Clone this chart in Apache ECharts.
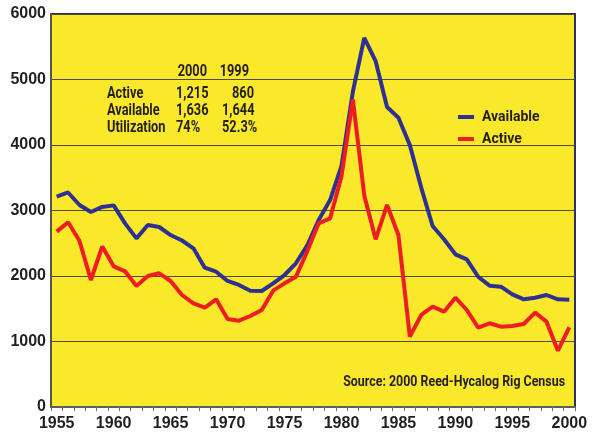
<!DOCTYPE html>
<html>
<head>
<meta charset="utf-8">
<script src="https://cdn.jsdelivr.net/npm/echarts@6/dist/echarts.min.js"></script>
<style>
  html, body { margin: 0; padding: 0; background: #fff; }
  #rigChart { width: 599px; height: 433px; }
</style>
</head>
<body>
<div id="rigChart"></div>
<script>
  // rig census data, 1955 - 2000
  var years = [];
  for (var y = 1955; y <= 2000; y++) years.push(String(y));

  var available = [3211, 3275, 3084, 2977, 3055, 3078, 2804, 2575, 2779, 2748,
                   2625, 2542, 2423, 2127, 2066, 1924, 1863, 1776, 1771, 1888,
                   2015, 2194, 2470, 2855, 3160, 3680, 4814, 5635, 5280, 4580,
                   4415, 4000, 3350, 2763, 2560, 2331, 2255, 1989, 1852, 1837,
                   1720, 1644, 1669, 1710, 1644, 1636];

  var active = [2677, 2820, 2537, 1939, 2452, 2148, 2071, 1847, 2000, 2041,
                1924, 1710, 1583, 1516, 1644, 1344, 1318, 1389, 1481, 1776,
                1888, 1989, 2380, 2804, 2880, 3520, 4695, 3230, 2560, 3084,
                2626, 1074, 1405, 1532, 1455, 1669, 1481, 1211, 1278, 1226,
                1237, 1267, 1440, 1303, 860, 1215];

  var tableHead = ['2000', '1999'];
  var tableRows = [
    ['Active', '1,215', '860'],
    ['Available', '1,636', '1,644'],
    ['Utilization', '74%', '52.3%']
  ];

  var textColor = '#231f20';

  // condensed looking text: squeeze horizontally around the anchor
  function label(txt, x, y, align, size) {
    return {
      type: 'text',
      x: x,
      y: y,
      scaleX: 0.8,
      style: {
        text: txt,
        font: 'bold ' + (size || 16) + "px Roboto, 'Liberation Sans', sans-serif",
        fill: textColor,
        align: align || 'left',
        verticalAlign: 'middle'
      }
    };
  }

  var graphics = [];
  graphics.push(label(tableHead[0], 207, 72, 'right'));
  graphics.push(label(tableHead[1], 249, 72, 'right'));
  var col3x = [232, 222, 222];
  tableRows.forEach(function (row, i) {
    var cy = 94 + i * 17;
    graphics.push(label(row[0], 107, cy));
    graphics.push(label(row[1], 176, cy));
    graphics.push(label(row[2], col3x[i], cy));
  });
  graphics.push(label('Source: 2000 Reed-Hycalog Rig Census', 565, 382, 'right', 15.5));

  var rigChart = echarts.init(document.getElementById('rigChart'));
  rigChart.setOption({
    animation: false,
    grid: {
      left: 51,
      right: 24,
      top: 14,
      bottom: 26,
      show: true,
      backgroundColor: '#f9e92a',
      borderColor: '#2e2f63',
      borderWidth: 2
    },
    legend: {
      data: ['Available', 'Active'],
      orient: 'vertical',
      left: 453,
      top: 105,
      icon: 'rect',
      itemWidth: 16,
      itemHeight: 4,
      itemGap: 8,
      textStyle: {
        fontFamily: 'Roboto, sans-serif',
        fontWeight: 'bold',
        fontSize: 14,
        color: textColor,
        padding: [0, 0, 0, 3]
      }
    },
    xAxis: {
      type: 'category',
      data: years,
      boundaryGap: true,
      axisLine: { lineStyle: { color: '#5c5c66', width: 2 } },
      axisTick: { show: true, interval: 0, length: 4, lineStyle: { color: '#7d7340' } },
      axisLabel: {
        interval: 4,
        margin: 9,
        fontFamily: "'Liberation Sans', Arial, sans-serif",
        fontWeight: 'bold',
        fontSize: 16,
        color: textColor
      },
      splitLine: { show: false }
    },
    yAxis: {
      type: 'value',
      min: 0,
      max: 6000,
      interval: 1000,
      axisLine: { show: true, lineStyle: { color: '#56564a', width: 2 } },
      axisTick: { show: false },
      axisLabel: {
        margin: 5,
        formatter: function (v) { return String(v); },
        fontFamily: "'Liberation Sans', Arial, sans-serif",
        fontWeight: 'bold',
        fontSize: 16,
        color: textColor
      },
      splitLine: { lineStyle: { color: '#4f4b2c', width: 1 } }
    },
    series: [
      {
        name: 'Available',
        type: 'line',
        data: available,
        showSymbol: false,
        symbol: 'none',
        color: '#2e3192',
        lineStyle: { color: '#2e3192', width: 4 }
      },
      {
        name: 'Active',
        type: 'line',
        data: active,
        showSymbol: false,
        symbol: 'none',
        color: '#ee1d25',
        lineStyle: { color: '#ee1d25', width: 4 }
      }
    ],
    graphic: graphics
  });
</script>
</body>
</html>
